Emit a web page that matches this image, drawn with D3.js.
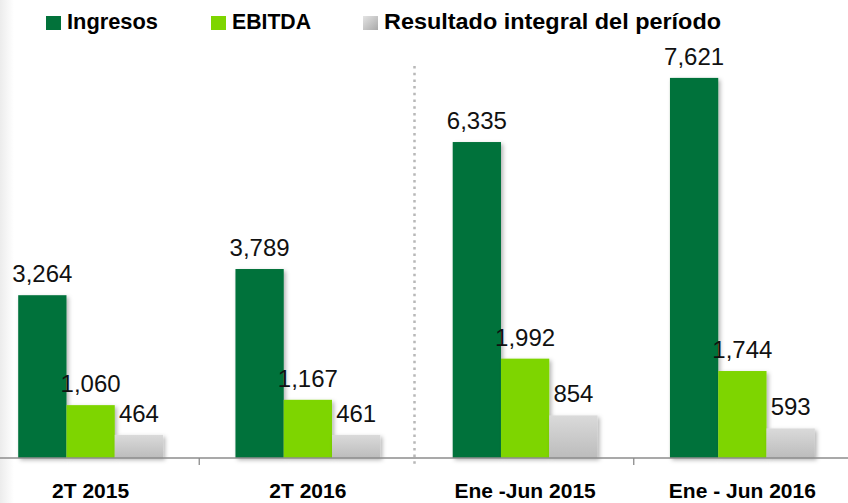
<!DOCTYPE html>
<html>
<head>
<meta charset="utf-8">
<script src="https://cdn.jsdelivr.net/npm/d3@7"></script>
<style>
  body { margin: 0; background: #fff; }
  svg { display: block; font-family: "Liberation Sans", Arial, sans-serif; }
</style>
</head>
<body>
<div id="chart-area"></div>
<script>
// Data
let categories = ["2T 2015", "2T 2016", "Ene -Jun 2015", "Ene - Jun 2016"];
let seriesNames = ["Ingresos", "EBITDA", "Resultado integral del período"];
let ingresos = [3264, 3789, 6335, 7621];
let ebitda = [1060, 1167, 1992, 1744];
let resultado = [464, 461, 854, 593];

let width = 848, height = 503;
let axisY = 458;

let svg = d3.select("#chart-area")
  .append("svg")
  .attr("width", width)
  .attr("height", height);

let defs = svg.append("defs");

// gray gradient for the third series
let grayGrad = defs.append("linearGradient")
  .attr("id", "gray-grad")
  .attr("x1", 0).attr("y1", 0).attr("x2", 0).attr("y2", 1);
grayGrad.append("stop").attr("offset", "0%").attr("stop-color", "#dadada");
grayGrad.append("stop").attr("offset", "100%").attr("stop-color", "#bcbcbc");

let grayLegend = defs.append("linearGradient")
  .attr("id", "gray-legend")
  .attr("x1", 0).attr("y1", 0).attr("x2", 1).attr("y2", 1);
grayLegend.append("stop").attr("offset", "0%").attr("stop-color", "#e4e4e4");
grayLegend.append("stop").attr("offset", "100%").attr("stop-color", "#a9a9a9");

let edge = defs.append("linearGradient")
  .attr("id", "edge-grad")
  .attr("x1", 0).attr("y1", 0).attr("x2", 1).attr("y2", 0);
edge.append("stop").attr("offset", "0%").attr("stop-color", "#ececec");
edge.append("stop").attr("offset", "100%").attr("stop-color", "#ffffff");

defs.append("filter")
  .attr("id", "shadow")
  .attr("x", "-20%").attr("y", "-20%").attr("width", "150%").attr("height", "150%")
  .append("feDropShadow")
  .attr("dx", 2).attr("dy", 2)
  .attr("stdDeviation", 2)
  .attr("flood-color", "#000")
  .attr("flood-opacity", 0.3);

// faint slide edge on the left
svg.append("rect")
  .attr("x", 0).attr("y", 0)
  .attr("width", 14).attr("height", height)
  .attr("fill", "url(#edge-grad)");

let colors = ["#02723a", "#7ed500", "url(#gray-grad)"];
let legendColors = ["#02723a", "#7ed500", "url(#gray-legend)"];

// Scales
let x0 = d3.scaleBand()
  .domain(categories)
  .range([-18, 851]);

let x1 = d3.scaleBand()
  .domain(seriesNames)
  .range([0, x0.bandwidth()])
  .paddingOuter(0.75);

let y = d3.scaleLinear()
  .domain([0, 8000])
  .range([axisY, 59]);

let rows = categories.map((c, i) => ({
  category: c,
  values: [ingresos[i], ebitda[i], resultado[i]].map((v, j) => ({ series: seriesNames[j], idx: j, value: v }))
}));

// dotted separator between quarters and half-years
svg.append("line")
  .attr("x1", x0(categories[2]) - 2).attr("x2", x0(categories[2]) - 2)
  .attr("y1", 66).attr("y2", 464)
  .attr("stroke", "#b8b8b8")
  .attr("stroke-width", 2.5)
  .attr("stroke-dasharray", "2.5,4.2");

// Bars
let groups = svg.selectAll(".group")
  .data(rows)
  .enter()
  .append("g")
  .attr("class", "group")
  .attr("transform", d => "translate(" + x0(d.category) + ",0)");

groups.selectAll("rect")
  .data(d => d.values)
  .enter()
  .append("rect")
  .attr("x", d => x1(d.series))
  .attr("y", d => y(d.value))
  .attr("width", x1.bandwidth())
  .attr("height", d => axisY - y(d.value))
  .attr("fill", d => colors[d.idx])
  .attr("filter", "url(#shadow)");

groups.selectAll(".value")
  .data(d => d.values)
  .enter()
  .append("text")
  .attr("class", "value")
  .attr("x", d => x1(d.series) + x1.bandwidth() / 2)
  .attr("y", d => y(d.value) - 13)
  .attr("text-anchor", "middle")
  .style("font-size", "24px")
  .style("fill", "#111")
  .text(d => d3.format(",")(d.value));

// Axis
let xAxis = d3.axisBottom(x0).tickSize(0).tickPadding(25);
let axisG = svg.append("g")
  .attr("class", "axis x-axis")
  .attr("transform", "translate(0," + axisY + ")")
  .call(xAxis);

axisG.select(".domain")
  .attr("d", "M0,0H" + width)
  .attr("stroke", "#8c8c8c")
  .attr("stroke-width", 1.3);

axisG.selectAll("text")
  .style("font-size", "21px")
  .style("font-weight", "bold")
  .style("fill", "#000")
  .style("font-family", "'Liberation Sans', Arial, sans-serif");

// separator ticks between categories
axisG.selectAll(".sep")
  .data([categories[1], categories[3]])
  .enter()
  .append("line")
  .attr("class", "sep")
  .attr("x1", d => x0(d)).attr("x2", d => x0(d))
  .attr("y1", 0).attr("y2", 7)
  .attr("stroke", "#8c8c8c")
  .attr("stroke-width", 1.3);

// Legend
let legendX = [46, 211, 363];
let legendW = [91, 79, 337];
let legend = svg.selectAll(".legend")
  .data(seriesNames)
  .enter()
  .append("g")
  .attr("class", "legend")
  .attr("transform", (d, i) => "translate(" + legendX[i] + ",0)");

legend.append("rect")
  .attr("x", 0).attr("y", 16)
  .attr("width", 15).attr("height", 14)
  .attr("fill", (d, i) => legendColors[i]);

legend.append("text")
  .attr("x", 21).attr("y", 29)
  .attr("textLength", (d, i) => legendW[i])
  .attr("lengthAdjust", "spacingAndGlyphs")
  .style("font-size", "22px")
  .style("font-weight", "bold")
  .style("fill", "#000")
  .text(d => d);
</script>
</body>
</html>
